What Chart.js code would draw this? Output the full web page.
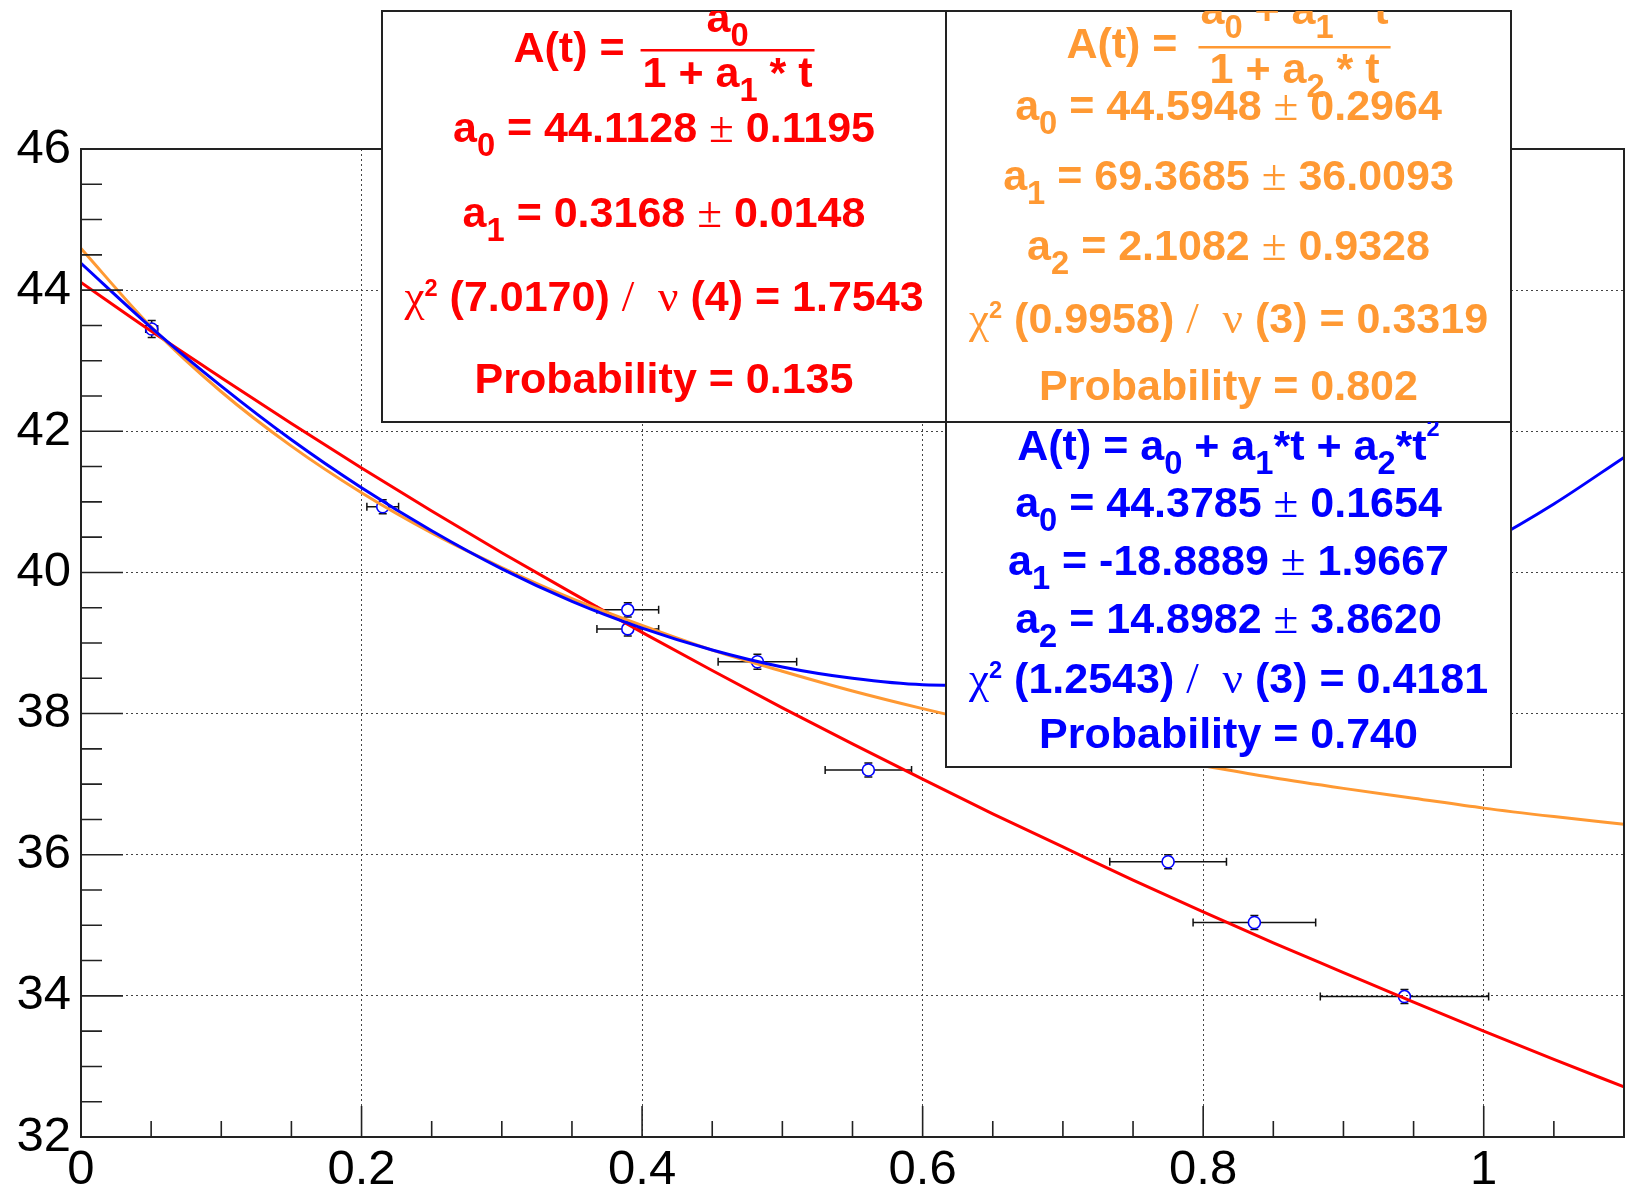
<!DOCTYPE html>
<html>
<head>
<meta charset="utf-8">
<script src="https://cdn.jsdelivr.net/npm/chart.js@4.4.0/dist/chart.umd.min.js"></script>
<style>
html, body { margin: 0; padding: 0; background: #fff; }
canvas { display: block; }
</style>
</head>
<body>
<canvas id="fit" width="1634" height="1196"></canvas>
<script>
// measured points: A(t) with errors
const pointT = [0.0504, 0.2151, 0.3898, 0.3898, 0.4822, 0.5613, 0.775, 0.8365, 0.9435];
const pointA = [43.45, 40.93, 39.47, 39.20, 38.735, 37.20, 35.90, 35.04, 33.99];
const pointTErr = [0.004, 0.0113, 0.022, 0.022, 0.028, 0.0308, 0.0416, 0.0437, 0.06];
const pointAErr = [0.12, 0.1, 0.1, 0.1, 0.106, 0.1, 0.1, 0.1, 0.1];

// fitted curves
const curveT = [0, 0.05, 0.1, 0.15, 0.2, 0.25, 0.3, 0.35, 0.4, 0.45, 0.5, 0.55, 0.6, 0.65, 0.7, 0.75, 0.8, 0.85, 0.9, 0.95, 1.0, 1.05, 1.1];
const redA = [44.11, 43.42, 42.76, 42.11, 41.48, 40.87, 40.28, 39.71, 39.15, 38.61, 38.08, 37.57, 37.07, 36.58, 36.11, 35.64, 35.19, 34.75, 34.33, 33.91, 33.50, 33.10, 32.71];
const orangeA = [44.59, 43.48, 42.56, 41.79, 41.13, 40.56, 40.07, 39.63, 39.25, 38.90, 38.60, 38.32, 38.07, 37.84, 37.63, 37.43, 37.26, 37.09, 36.94, 36.80, 36.66, 36.54, 36.43];
const blueA = [44.38, 43.47, 42.64, 41.88, 41.20, 40.59, 40.05, 39.59, 39.21, 38.90, 38.66, 38.50, 38.41, 38.40, 38.46, 38.59, 38.80, 39.09, 39.45, 39.88, 40.39, 40.97, 41.63];

// axis ticks
const xMajor = [0, 0.2, 0.4, 0.6, 0.8, 1.0];
const xTickLabels = ["0", "0.2", "0.4", "0.6", "0.8", "1"];
const xMinor = [0.05, 0.1, 0.15, 0.25, 0.3, 0.35, 0.45, 0.5, 0.55, 0.65, 0.7, 0.75, 0.85, 0.9, 0.95, 1.05];
const yMajor = [32, 34, 36, 38, 40, 42, 44, 46];
const yTickLabels = ["32", "34", "36", "38", "40", "42", "44", "46"];
const yMinor = [32.5, 33, 33.5, 34.5, 35, 35.5, 36.5, 37, 37.5, 38.5, 39, 39.5, 40.5, 41, 41.5, 42.5, 43, 43.5, 44.5, 45, 45.5];

const RED = "#ff0000";
const ORANGE = "#ff9933";
const BLUE = "#0000ff";
const SANS = '"Liberation Sans", Arial, Helvetica, sans-serif';
const SERIF = '"Liberation Serif", "DejaVu Serif", serif';
const TXT = 43;

// fit result panels (pixel boxes on the canvas)
const boxes = [
	{
		color: RED,
		rect: [382, 11, 946, 422],
		frac: { lead: "A(t) =", num: "a_{0}", den: "1 + a_{1} * t", base: 62, bar: 50, numBase: 32, denBase: 87, gap: 16 },
		lines: ["a_{0} = 44.1128 #pm 0.1195", "a_{1} = 0.3168 #pm 0.0148", "#chi^{2} (7.0170) #slash  #nu (4) = 1.7543", "Probability = 0.135"],
		baselines: [142, 227, 311, 393],
	},
	{
		color: ORANGE,
		rect: [946, 11, 1511, 422],
		frac: { lead: "A(t) =", num: "a_{0} + a_{1} * t", den: "1 + a_{2} * t", base: 58, bar: 47, numBase: 24, denBase: 83, gap: 21 },
		lines: ["a_{0} = 44.5948 #pm 0.2964", "a_{1} = 69.3685 #pm 36.0093", "a_{2} = 2.1082 #pm 0.9328", "#chi^{2} (0.9958) #slash  #nu (3) = 0.3319", "Probability = 0.802"],
		baselines: [120, 190, 260, 333, 400],
	},
	{
		color: BLUE,
		rect: [946, 422, 1511, 767],
		frac: null,
		lines: ["A(t) = a_{0} + a_{1}*t + a_{2}*t^{2}", "a_{0} = 44.3785 #pm 0.1654", "a_{1} = -18.8889 #pm 1.9667", "a_{2} = 14.8982 #pm 3.8620", "#chi^{2} (1.2543) #slash  #nu (3) = 0.4181", "Probability = 0.740"],
		baselines: [460, 517, 575, 633, 693, 748],
	},
];

const SYMBOLS = { chi: "\u03c7", nu: "\u03bd", pm: "\u00b1", slash: "/" };

// tiny TLatex-like parser: _{..}, ^{..}, #name
function parseLatex(s) {
	const out = [];
	let buf = "";
	let i = 0;
	const flush = () => {
		if (buf) {
			out.push({ t: buf, k: "n" });
			buf = "";
		}
	};
	while (i < s.length) {
		const c = s[i];
		if ((c === "_" || c === "^") && s[i + 1] === "{") {
			flush();
			const end = s.indexOf("}", i);
			out.push({ t: s.slice(i + 2, end), k: c === "_" ? "sub" : "sup" });
			i = end + 1;
		} else if (c === "#") {
			flush();
			const m = /^#([a-z]+)/.exec(s.slice(i));
			out.push({ t: SYMBOLS[m[1]], k: "sym" });
			i += m[0].length;
		} else {
			buf += c;
			i++;
		}
	}
	flush();
	return out;
}

function partStyle(p, prev) {
	switch (p.k) {
		case "sub":
			return { font: `bold ${TXT * 0.76}px ${SANS}`, dy: TXT * 0.32 };
		case "sup":
			return { font: `bold ${TXT * 0.55}px ${SANS}`, dy: prev && prev.k === "sym" ? -TXT * 0.36 : -TXT * 0.55 };
		case "sym":
			return { font: `${TXT * 1.05}px ${SERIF}`, dy: 0 };
		default:
			return { font: `bold ${TXT}px ${SANS}`, dy: 0 };
	}
}

function layoutLatex(ctx, src) {
	const parts = parseLatex(src);
	let w = 0;
	let prev = null;
	const items = parts.map(p => {
		const st = partStyle(p, prev);
		prev = p;
		ctx.font = st.font;
		const width = ctx.measureText(p.t).width;
		const item = { text: p.t, font: st.font, dx: w, dy: st.dy };
		w += width;
		return item;
	});
	return { items, width: w };
}

function drawLayout(ctx, lay, x, base) {
	lay.items.forEach(it => {
		ctx.font = it.font;
		ctx.fillText(it.text, x + it.dx, base + it.dy);
	});
}

function drawBox(ctx, box) {
	const [l, t, r, b] = box.rect;
	const cx = (l + r) / 2;
	ctx.save();
	ctx.fillStyle = "#fff";
	ctx.fillRect(l, t, r - l, b - t);
	ctx.strokeStyle = "#222";
	ctx.lineWidth = 2;
	ctx.strokeRect(l, t, r - l, b - t);

	ctx.beginPath();
	ctx.rect(l, t, r - l, b - t);
	ctx.clip();

	ctx.fillStyle = box.color;
	ctx.textAlign = "left";
	ctx.textBaseline = "alphabetic";

	if (box.frac) {
		const f = box.frac;
		const lead = layoutLatex(ctx, f.lead);
		const num = layoutLatex(ctx, f.num);
		const den = layoutLatex(ctx, f.den);
		const fracW = Math.max(num.width, den.width) + 4;
		const total = lead.width + f.gap + fracW;
		const x0 = cx - total / 2;
		const fx = x0 + lead.width + f.gap;
		drawLayout(ctx, lead, x0, f.base);
		ctx.fillRect(fx, f.bar - 1, fracW, 2.5);
		drawLayout(ctx, num, fx + (fracW - num.width) / 2, f.numBase);
		drawLayout(ctx, den, fx + (fracW - den.width) / 2, f.denBase);
	}

	box.lines.forEach((s, i) => {
		const lay = layoutLatex(ctx, s);
		drawLayout(ctx, lay, cx - lay.width / 2, box.baselines[i]);
	});
	ctx.restore();
}

function drawErrorBars(chart) {
	const { ctx } = chart;
	const x = chart.scales.x;
	const y = chart.scales.y;
	const r = 6;
	const cap = 4;
	ctx.save();
	ctx.strokeStyle = "#111";
	ctx.lineWidth = 1.5;
	ctx.beginPath();
	pointT.forEach((t, i) => {
		const px = x.getPixelForValue(t);
		const py = y.getPixelForValue(pointA[i]);
		const left = x.getPixelForValue(t - pointTErr[i]);
		const right = x.getPixelForValue(t + pointTErr[i]);
		const top = y.getPixelForValue(pointA[i] + pointAErr[i]);
		const bottom = y.getPixelForValue(pointA[i] - pointAErr[i]);
		const hl = Math.max(px - left, r);
		const hr = Math.max(right - px, r);
		const vt = Math.max(py - top, r);
		const vb = Math.max(bottom - py, r);
		// horizontal bar with end caps
		ctx.moveTo(px - hl, py); ctx.lineTo(px - r, py);
		ctx.moveTo(px + r, py); ctx.lineTo(px + hr, py);
		ctx.moveTo(px - hl, py - cap); ctx.lineTo(px - hl, py + cap);
		ctx.moveTo(px + hr, py - cap); ctx.lineTo(px + hr, py + cap);
		// vertical bar with end caps
		ctx.moveTo(px, py - vt); ctx.lineTo(px, py - r);
		ctx.moveTo(px, py + r); ctx.lineTo(px, py + vb);
		ctx.moveTo(px - cap, py - vt); ctx.lineTo(px + cap, py - vt);
		ctx.moveTo(px - cap, py + vb); ctx.lineTo(px + cap, py + vb);
	});
	ctx.stroke();
	ctx.restore();
}

function drawFrameAndTicks(chart) {
	const { ctx, chartArea: a } = chart;
	const x = chart.scales.x;
	const y = chart.scales.y;
	ctx.save();
	ctx.strokeStyle = "#222";
	ctx.lineWidth = 1.6;
	ctx.beginPath();
	xMajor.forEach(v => {
		const px = x.getPixelForValue(v);
		ctx.moveTo(px, a.bottom);
		ctx.lineTo(px, a.bottom - 31);
	});
	xMinor.forEach(v => {
		const px = x.getPixelForValue(v);
		ctx.moveTo(px, a.bottom);
		ctx.lineTo(px, a.bottom - 16);
	});
	yMajor.forEach(v => {
		const py = y.getPixelForValue(v);
		ctx.moveTo(a.left, py);
		ctx.lineTo(a.left + 42, py);
	});
	yMinor.forEach(v => {
		const py = y.getPixelForValue(v);
		ctx.moveTo(a.left, py);
		ctx.lineTo(a.left + 21, py);
	});
	ctx.stroke();
	ctx.lineWidth = 2;
	ctx.strokeRect(a.left, a.top, a.right - a.left, a.bottom - a.top);
	ctx.restore();
}

const rootStyle = {
	id: "rootStyle",
	beforeDatasetsDraw(chart) {
		drawErrorBars(chart);
	},
	afterDatasetsDraw(chart) {
		drawFrameAndTicks(chart);
	},
	afterDraw(chart) {
		boxes.forEach(b => drawBox(chart.ctx, b));
	},
};

const toXY = arr => arr.map((v, i) => ({ x: curveT[i], y: v }));

const curveStyle = color => ({
	showLine: true,
	borderColor: color,
	backgroundColor: color,
	borderWidth: 3,
	pointRadius: 0,
	cubicInterpolationMode: "monotone",
	fill: false,
});

new Chart(document.getElementById("fit"), {
	type: "scatter",
	data: {
		datasets: [
			{ label: "pol2", data: toXY(blueA), order: 0, ...curveStyle(BLUE) },
			{ label: "ratio", data: toXY(orangeA), order: 1, ...curveStyle(ORANGE) },
			{ label: "hyperbola", data: toXY(redA), order: 2, ...curveStyle(RED) },
			{
				label: "data",
				data: pointT.map((t, i) => ({ x: t, y: pointA[i] })),
				order: 3,
				showLine: false,
				pointStyle: "circle",
				pointRadius: 6,
				pointBorderWidth: 1.6,
				pointBorderColor: BLUE,
				pointBackgroundColor: "rgba(0,0,0,0)",
			},
		],
	},
	options: {
		responsive: false,
		animation: false,
		devicePixelRatio: 1,
		layout: { padding: { top: 149, right: 10, left: 0, bottom: 0 } },
		plugins: {
			legend: { display: false },
			tooltip: { enabled: false },
		},
		scales: {
			x: {
				type: "linear",
				min: 0,
				max: 1.1,
				afterBuildTicks: s => {
					s.ticks = xMajor.map(v => ({ value: v }));
				},
				afterFit: s => {
					s.height = 59;
				},
				ticks: {
					callback: (v, i) => xTickLabels[i],
					color: "#000",
					font: { family: SANS, size: 49 },
					padding: 4,
					maxRotation: 0,
					autoSkip: false,
				},
				grid: { color: "#444", lineWidth: 1, drawTicks: false },
				border: { display: false, dash: [2, 3] },
			},
			y: {
				type: "linear",
				min: 32,
				max: 46,
				afterBuildTicks: s => {
					s.ticks = yMajor.map(v => ({ value: v }));
				},
				afterFit: s => {
					s.width = 81;
				},
				ticks: {
					callback: (v, i) => yTickLabels[i],
					color: "#000",
					font: { family: SANS, size: 49 },
					padding: 10,
					autoSkip: false,
				},
				grid: { color: "#444", lineWidth: 1, drawTicks: false },
				border: { display: false, dash: [2, 3] },
			},
		},
	},
	plugins: [rootStyle],
});
</script>
</body>
</html>
